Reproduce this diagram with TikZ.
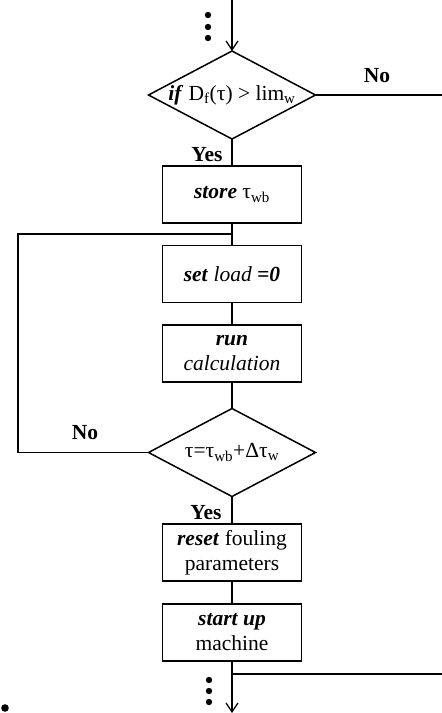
\documentclass[tikz,border=0pt]{standalone}
\usepackage{fontspec}
\setmainfont{Liberation Serif}
\usetikzlibrary{shapes.geometric,arrows.meta}
\begin{document}
\begin{tikzpicture}[x=1pt,y=-1pt,
  every node/.style={font=\fontsize{21.5}{25}\selectfont},
  flow/.style={line width=1.5pt},
  arr/.style={flow,-{Straight Barb[length=9pt,width=12pt,line width=1.2pt]}},
  stepbox/.style={draw,line width=1.5pt,minimum width=139pt,minimum height=57pt,inner sep=0pt,outer sep=0pt,align=center},
  dia/.style={draw,line width=1.5pt,shape=diamond,minimum width=167pt,minimum height=88pt,inner sep=0pt,outer sep=0pt},
  lab/.style={font=\fontsize{21.5}{25}\selectfont\bfseries},
  dot/.style={fill=black}]
\useasboundingbox (0,0) rectangle (442,713);
% nodes
\node[dia] (d1) at (232,95) {\makebox[0pt]{\textbf{\textit{if}} D\textsubscript{f}(τ) > lim\textsubscript{w}}};
\node[stepbox] (b1) at (232,194.5) {\textbf{\textit{store}} τ\textsubscript{wb}};
\node[stepbox] (b2) at (232,274) {\textbf{\textit{set}} \textit{load} \textbf{\textit{=0}}};
\node[stepbox] (b3) at (232,353.5) {\textbf{\textit{run}}\\\textit{calculation}};
\node[dia] (d2) at (232,452.5) {\makebox[0pt]{τ=τ\textsubscript{wb}+Δτ\textsubscript{w}}};
\node[stepbox] (b4) at (232,552.5) {\textbf{\textit{reset}} fouling\\parameters};
\node[stepbox] (b5) at (232,632.5) {\textbf{\textit{start up}}\\machine};
% labels
\node[lab] (no1) at (377,76) {No};
\node[lab] (yes1) at (207,155) {Yes};
\node[lab] (no2) at (85,433) {No};
\node[lab] (yes2) at (206,513) {Yes};
% coordinates
\coordinate (top) at (232,0);
\coordinate (noend) at (442,95);
\coordinate (j) at (232,234);
\coordinate (lb) at (18,452.5);
\coordinate (lt) at (18,234);
\coordinate (bot) at (232,713);
\coordinate (bj) at (232,674);
\coordinate (bend) at (442,674);
% connectors
\draw[arr] (top) -- (d1.north);
\draw[flow] (d1.east) -- (noend);
\draw[flow] (d1.south) -- (b1.north);
\draw[flow] (b1.south) -- (b2.north);
\draw[flow] (d2.west) -- (lb) -- (lt) -- (j);
\draw[flow] (b2.south) -- (b3.north);
\draw[flow] (b3.south) -- (d2.north);
\draw[flow] (d2.south) -- (b4.north);
\draw[flow] (b4.south) -- (b5.north);
\draw[arr] (b5.south) -- (bot);
\draw[flow] (bj) -- (bend);
% dots
\foreach \yy in {15,27,38} \fill[dot] (208,\yy) circle (3.2pt);
\foreach \yy in {680,691,702} \fill[dot] (209,\yy) circle (3.2pt);
\fill[dot] (5,708) circle (3.8pt);
\end{tikzpicture}
\end{document}
